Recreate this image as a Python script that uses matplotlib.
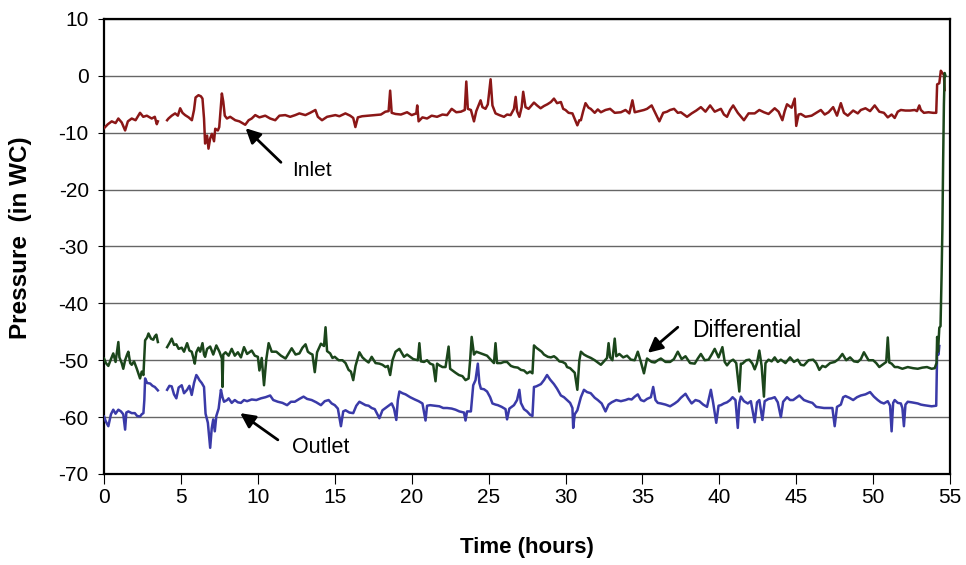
import matplotlib
matplotlib.use("Agg")
import matplotlib.pyplot as plt
import numpy as np

# values (hours, in WC); NaN marks the data gap
inlet_t = [0.0, 0.25, 0.5, 0.75, 0.93, 1.15, 1.37, 1.55, 1.8, 2.05, 2.34, 2.55, 2.78, 3.1, 3.3, 3.43, 3.5, 3.8,
           4.1, 4.19, 4.4, 4.62, 4.8, 4.95, 5.1, 5.27, 5.5, 5.71, 5.85, 5.95, 6.14, 6.3, 6.4, 6.5, 6.57, 6.7, 6.79,
           6.9, 7.01, 7.15, 7.23, 7.4, 7.49, 7.58, 7.66, 7.75, 7.85, 7.99, 8.2, 8.53, 8.8, 9.18, 9.4, 9.6, 9.83,
           10.1, 10.48, 10.8, 11.13, 11.4, 11.78, 12.1, 12.43, 12.7, 13.09, 13.4, 13.74, 13.9, 14.17, 14.5, 15.04,
           15.3, 15.69, 16.0, 16.2, 16.34, 16.5, 16.78, 17.2, 17.64, 18.0, 18.29, 18.5, 18.6, 18.7, 18.95, 19.3,
           19.7, 20.0, 20.3, 20.36, 20.45, 20.7, 21.0, 21.3, 21.65, 22.0, 22.3, 22.6, 22.9, 23.2, 23.45, 23.55,
           23.65, 23.85, 24.05, 24.2, 24.48, 24.6, 24.8, 24.95, 25.13, 25.25, 25.45, 25.7, 26.0, 26.2, 26.43,
           26.65, 26.76, 26.85, 27.0, 27.15, 27.25, 27.4, 27.6, 27.95, 28.15, 28.38, 28.6, 28.82, 29.05, 29.25,
           29.45, 29.7, 29.85, 30.0, 30.2, 30.45, 30.6, 30.77, 30.9, 31.0, 31.15, 31.3, 31.5, 31.64, 31.9, 32.1,
           32.3, 32.6, 32.9, 33.2, 33.6, 33.9, 34.15, 34.35, 34.5, 34.8, 35.1, 35.3, 35.6, 35.85, 36.1, 36.35,
           36.6, 36.8, 37.06, 37.3, 37.5, 37.9, 38.2, 38.5, 38.8, 39.1, 39.4, 39.7, 40.1, 40.3, 40.5, 40.7, 40.9,
           41.2, 41.6, 41.9, 42.3, 42.6, 42.9, 43.2, 43.6, 43.85, 44.1, 44.25, 44.4, 44.7, 44.9, 45.0, 45.15,
           45.3, 45.6, 46.0, 46.3, 46.6, 46.85, 47.1, 47.4, 47.65, 47.9, 48.1, 48.35, 48.7, 49.0, 49.2, 49.5,
           49.8, 50.1, 50.4, 50.7, 50.95, 51.2, 51.4, 51.6, 51.8, 52.1, 52.4, 52.7, 52.85, 53.0, 53.1, 53.3,
           53.6, 53.9, 54.1, 54.16, 54.3, 54.4, 54.5, 54.6, 54.65]
inlet_p = [-9.2, -8.5, -8.0, -8.3, -7.5, -8.2, -9.6, -8.0, -7.5, -7.8, -6.5, -7.2, -7.0, -7.5, -7.2, -8.5, -8.0, np.nan,
           -7.8, -7.5, -7.0, -6.6, -7.0, -5.7, -6.5, -6.9, -7.3, -7.8, -6.0, -3.8, -3.4, -3.6, -4.0, -7.5, -11.9, -10.5, -12.8,
           -11.0, -10.2, -11.5, -9.3, -9.6, -9.0, -6.0, -3.1, -4.5, -7.0, -7.5, -7.2, -7.8, -8.0, -8.6, -7.8, -7.5, -6.9,
           -7.3, -7.0, -7.5, -7.8, -7.0, -6.9, -7.2, -6.9, -6.6, -6.9, -6.5, -6.0, -7.2, -7.8, -7.2, -6.9,
           -7.1, -6.6, -7.0, -7.4, -9.0, -7.3, -7.1, -7.0, -6.9, -6.8, -6.3, -6.2, -2.6, -6.5, -6.7, -6.8,
           -6.4, -6.9, -6.6, -5.2, -8.0, -7.3, -7.5, -7.0, -7.2, -6.8, -6.9, -5.8, -6.4, -6.3, -6.0, -1.0,
           -5.8, -6.0, -8.0, -6.2, -4.3, -5.5, -5.8, -5.0, -0.6, -5.2, -6.6, -6.9, -7.2, -6.8, -6.9,
           -5.8, -3.7, -6.2, -7.2, -5.5, -2.8, -5.5, -5.8, -4.7, -5.2, -5.7, -5.3, -5.0, -4.6, -4.0,
           -4.8, -4.6, -5.8, -6.0, -6.5, -6.6, -7.6, -8.7, -7.8, -7.8, -6.2, -4.8, -5.6, -5.8, -6.5, -5.9,
           -6.4, -6.0, -5.8, -6.5, -6.4, -6.0, -6.6, -4.3, -6.4, -6.2, -6.0, -5.8, -5.2, -6.6, -8.0, -6.5,
           -6.3, -6.0, -5.8, -6.5, -6.4, -7.2, -6.6, -6.1, -5.5, -6.3, -5.2, -6.3, -5.8, -6.8, -7.2, -6.0, -5.2,
           -6.5, -7.8, -6.6, -6.6, -6.0, -6.4, -6.7, -5.7, -6.3, -7.8, -6.2, -5.0, -5.6, -4.0, -8.8, -6.8,
           -6.7, -7.2, -7.0, -6.5, -6.0, -6.8, -6.4, -5.5, -7.0, -4.8, -6.5, -7.0, -6.1, -6.6, -6.0, -5.7,
           -6.2, -5.2, -6.3, -6.5, -7.3, -6.8, -7.4, -6.3, -6.0, -6.1, -6.1, -6.0, -6.2, -5.2, -6.0, -6.5,
           -6.4, -6.5, -6.5, -1.5, -1.3, 0.9, 0.5, 0.2, -2.5]

diff_t = [0.0, 0.12, 0.28, 0.45, 0.6, 0.75, 0.93, 1.0, 1.15, 1.25, 1.37, 1.5, 1.58, 1.7, 1.8, 1.95, 2.13, 2.25, 2.34,
          2.45, 2.56, 2.67, 2.8, 2.89, 3.05, 3.2, 3.3, 3.4, 3.5, 3.8,
          4.1, 4.25, 4.4, 4.55, 4.7, 4.85, 5.05, 5.2, 5.4, 5.55, 5.7, 5.8, 5.9, 6.0, 6.14, 6.25, 6.4, 6.5, 6.57,
          6.7, 6.9, 7.1, 7.3, 7.5, 7.66, 7.7, 7.75, 7.9, 8.1, 8.3, 8.5, 8.7, 8.9, 9.1, 9.3, 9.6, 9.8, 10.0, 10.1,
          10.25, 10.4, 10.55, 10.7, 10.9, 11.2, 11.5, 11.8, 12.0, 12.2, 12.45, 12.7, 12.9, 13.1, 13.25, 13.4,
          13.55, 13.7, 13.85, 14.1, 14.3, 14.4, 14.5, 14.7, 14.85, 15.0, 15.25, 15.5, 15.7, 15.9, 16.05, 16.2,
          16.35, 16.6, 16.8, 17.0, 17.2, 17.4, 17.65, 17.9, 18.1, 18.3, 18.45, 18.6, 18.75, 18.95, 19.2, 19.5,
          19.7, 19.9, 20.1, 20.4, 20.5, 20.6, 20.8, 21.0, 21.2, 21.4, 21.55, 21.65, 21.8, 22.0, 22.2, 22.4,
          22.5, 22.6, 22.85, 23.07, 23.3, 23.5, 23.7, 23.8, 23.9, 24.05, 24.2, 24.5, 24.7, 24.9, 25.1, 25.35,
          25.45, 25.55, 25.8, 26.0, 26.2, 26.45, 26.65, 26.9, 27.1, 27.3, 27.5, 27.7, 27.85, 27.95, 28.1, 28.3,
          28.45, 28.6, 28.85, 29.05, 29.25, 29.4, 29.6, 29.8, 30.0, 30.1, 30.3, 30.45, 30.6, 30.77, 30.9, 31.0,
          31.2, 31.4, 31.65, 31.9, 32.1, 32.3, 32.5, 32.7, 32.8, 32.9, 33.05, 33.2, 33.3, 33.5, 33.75, 34.0,
          34.25, 34.5, 34.7, 34.9, 35.1, 35.3, 35.6, 35.8, 36.0, 36.2, 36.5, 36.8, 37.05, 37.3, 37.55, 37.8,
          38.1, 38.4, 38.6, 38.8, 39.05, 39.3, 39.5, 39.7, 39.95, 40.2, 40.35, 40.5, 40.7, 40.9, 41.1, 41.3,
          41.4, 41.5, 41.75, 41.95, 42.15, 42.3, 42.45, 42.6, 42.75, 42.9, 43.0, 43.2, 43.4, 43.6, 43.8, 44.0,
          44.3, 44.6, 44.85, 45.1, 45.3, 45.5, 45.8, 46.1, 46.3, 46.5, 46.7, 46.9, 47.2, 47.5, 47.75, 48.0,
          48.25, 48.5, 48.75, 49.0, 49.2, 49.4, 49.7, 50.0, 50.2, 50.4, 50.7, 50.85, 50.95, 51.05, 51.2, 51.4,
          51.6, 51.9, 52.25, 52.6, 52.9, 53.2, 53.5, 53.8, 54.0, 54.12, 54.16, 54.22, 54.3, 54.38, 54.45, 54.5,
          54.55, 54.6, 54.65, 54.7]
diff_p = [-49.7, -50.5, -51.0, -49.8, -48.8, -50.3, -46.8, -49.5, -50.5, -51.5, -50.0, -49.0, -48.5, -50.5, -50.8, -50.2, -51.5, -52.5, -53.2,
          -52.0, -52.6, -46.5, -46.0, -45.3, -46.2, -46.4, -45.8, -45.5, -46.8, np.nan,
          -47.7, -47.0, -46.2, -47.3, -47.2, -48.0, -47.8, -48.5, -47.0, -48.3, -48.5, -49.5, -50.6, -48.6, -47.8, -48.5, -47.0, -49.0, -49.4,
          -48.0, -47.6, -49.0, -47.4, -48.5, -49.7, -54.7, -49.0, -48.6, -49.2, -48.0, -49.2, -48.6, -49.5, -47.7, -48.9, -48.3, -49.2, -49.4, -51.8,
          -49.6, -54.4, -49.8, -47.0, -48.5, -48.5, -49.2, -49.7, -48.8, -47.9, -49.0, -48.8, -47.8, -47.2, -48.5, -48.8,
          -49.0, -52.1, -48.6, -47.1, -47.5, -44.2, -48.4, -48.8, -49.6, -49.4, -50.0, -50.0, -50.5, -51.7, -52.0, -53.5,
          -51.0, -48.6, -49.5, -50.0, -50.4, -49.4, -50.5, -50.6, -50.8, -51.2, -51.0, -52.6, -50.0, -48.5, -48.0, -49.4,
          -49.0, -49.4, -49.8, -50.0, -47.0, -50.2, -50.3, -50.0, -50.6, -50.8, -53.7, -50.6, -50.9, -51.2, -51.2, -47.6,
          -51.5, -51.7, -52.2, -52.6, -52.8, -53.5, -53.2, -50.0, -45.9, -49.0, -48.5, -48.8, -49.0, -49.2, -49.8, -50.5,
          -47.0, -50.5, -50.5, -50.3, -50.3, -51.0, -51.2, -51.3, -51.7, -51.8, -52.3, -52.0, -52.3, -47.4, -47.8, -48.2,
          -48.5, -49.0, -49.4, -49.5, -49.3, -49.6, -50.2, -50.3, -50.6, -51.2, -51.4, -51.8, -52.2, -55.2, -50.0, -48.5,
          -49.0, -49.3, -49.6, -50.0, -50.4, -50.8, -50.2, -49.6, -47.0, -49.5, -50.0, -46.2, -49.3, -48.9, -49.5, -49.2,
          -49.9, -50.0, -48.5, -50.3, -52.3, -49.7, -50.3, -50.4, -50.0, -49.7, -50.3, -50.3, -49.8, -48.5, -49.8, -49.3,
          -50.5, -50.6, -49.7, -48.9, -50.0, -49.9, -49.0, -48.0, -49.5, -47.7, -50.3, -50.9, -50.2, -49.9, -50.5, -55.5,
          -50.6, -50.6, -50.0, -49.9, -50.6, -51.6, -50.5, -48.3, -51.0, -56.4, -50.5, -49.9, -50.2, -49.5, -50.3, -49.9,
          -50.5, -49.5, -50.3, -49.9, -50.8, -50.9, -50.0, -49.9, -50.5, -51.7, -51.0, -51.2, -50.5, -50.3, -49.8, -48.9,
          -50.0, -49.5, -50.2, -50.3, -49.8, -48.6, -50.0, -50.0, -50.5, -51.2, -50.6, -50.3, -46.0, -50.4, -50.6, -51.2,
          -51.2, -51.5, -51.2, -51.4, -51.5, -51.3, -51.2, -51.5, -51.4, -50.5, -45.9, -48.5, -44.3, -44.0, -35.0, -27.0,
          -15.0, -5.0, 0.5, 0.0]

outlet_t = [0.0, 0.12, 0.28, 0.45, 0.6, 0.75, 0.93, 1.1, 1.25, 1.37, 1.45, 1.58, 1.8, 2.0, 2.15, 2.34, 2.45, 2.56, 2.62,
            2.67, 2.8, 3.0, 3.15, 3.3, 3.4, 3.5, 3.8,
            4.1, 4.25, 4.4, 4.55, 4.7, 4.85, 5.05, 5.2, 5.4, 5.55, 5.7, 5.85, 6.0, 6.1, 6.2, 6.35, 6.5, 6.6, 6.75,
            6.9, 7.0, 7.1, 7.2, 7.3, 7.45, 7.6, 7.7, 7.8, 8.0, 8.1, 8.3, 8.5, 8.7, 8.9, 9.1, 9.3, 9.6, 9.9, 10.2,
            10.5, 10.8, 11.0, 11.3, 11.6, 11.9, 12.15, 12.4, 12.7, 12.97, 13.2, 13.5, 13.8, 14.1, 14.35, 14.6, 14.8,
            15.0, 15.2, 15.4, 15.55, 15.7, 15.95, 16.2, 16.4, 16.6, 16.8, 17.0, 17.2, 17.4, 17.6, 17.9, 18.1, 18.3,
            18.5, 18.7, 18.85, 19.0, 19.1, 19.2, 19.4, 19.6, 19.9, 20.2, 20.45, 20.7, 20.9, 21.0, 21.2, 21.5, 21.8,
            22.05, 22.3, 22.6, 22.85, 23.1, 23.4, 23.5, 23.6, 23.85, 24.0, 24.15, 24.3, 24.4, 24.5, 24.7, 24.9,
            25.1, 25.25, 25.45, 25.6, 25.85, 26.1, 26.2, 26.35, 26.65, 26.85, 27.0, 27.1, 27.3, 27.5, 27.7, 27.85,
            27.95, 28.1, 28.4, 28.6, 28.8, 29.0, 29.25, 29.45, 29.7, 29.9, 30.1, 30.3, 30.45, 30.5, 30.6, 30.77,
            31.0, 31.2, 31.4, 31.64, 31.9, 32.1, 32.35, 32.6, 32.8, 33.0, 33.3, 33.6, 33.9, 34.1, 34.3, 34.5, 34.7,
            34.9, 35.1, 35.3, 35.55, 35.7, 35.85, 36.0, 36.2, 36.5, 36.8, 37.1, 37.3, 37.5, 37.8, 38.0, 38.2, 38.45,
            38.7, 38.95, 39.2, 39.3, 39.45, 39.6, 39.8, 39.95, 40.1, 40.3, 40.5, 40.7, 40.86, 41.05, 41.2, 41.3,
            41.4, 41.6, 41.85, 42.05, 42.3, 42.45, 42.6, 42.8, 42.95, 43.2, 43.4, 43.6, 43.8, 44.0, 44.15, 44.4,
            44.6, 44.8, 45.0, 45.2, 45.5, 45.8, 46.05, 46.3, 46.55, 46.8, 47.1, 47.35, 47.5, 47.65, 47.9, 48.05,
            48.2, 48.45, 48.7, 48.95, 49.2, 49.5, 49.8, 50.05, 50.3, 50.5, 50.7, 50.95, 51.1, 51.2, 51.3, 51.4,
            51.6, 51.8, 51.9, 52.0, 52.1, 52.25, 52.5, 52.7, 52.9, 53.1, 53.3, 53.55, 53.8, 54.1, 54.16, 54.25, 54.3]
outlet_p = [-59.9, -60.8, -61.6, -59.5, -58.7, -59.4, -58.7, -59.0, -59.5, -62.2, -59.2, -59.0, -59.3, -59.3, -59.8, -59.9, -59.5, -59.3, -57.0,
            -53.2, -54.0, -54.1, -54.5, -54.7, -55.0, -55.3, np.nan,
            -55.2, -54.5, -54.6, -56.0, -56.7, -54.8, -54.4, -55.8, -55.2, -54.5, -56.1, -54.0, -52.6, -53.0, -53.5, -54.0, -54.7, -59.4, -61.0,
            -65.4, -62.0, -60.4, -62.5, -59.8, -58.5, -55.2, -56.5, -57.3, -57.0, -56.7, -57.5, -57.0, -57.4, -57.5, -57.0, -57.2, -56.9, -57.0, -56.7,
            -56.5, -56.2, -57.0, -57.3, -57.5, -57.9, -57.3, -57.3, -56.8, -56.4, -56.8, -57.0, -57.4, -57.9, -57.2, -57.0, -57.6,
            -57.9, -58.5, -61.6, -59.0, -58.8, -59.2, -59.3, -58.0, -57.3, -57.6, -57.9, -58.0, -58.4, -58.6, -60.2, -58.8, -58.4,
            -58.0, -57.6, -58.5, -60.5, -57.0, -55.5, -55.8, -56.0, -56.5, -56.9, -57.2, -57.6, -60.6, -58.0, -57.9, -58.0, -58.1,
            -58.4, -58.4, -58.5, -58.7, -59.0, -59.2, -60.6, -59.0, -59.0, -54.4, -53.5, -50.6, -54.0, -55.0, -55.1, -55.5,
            -56.5, -57.6, -57.8, -57.9, -58.2, -58.6, -60.4, -58.5, -57.9, -57.0, -55.2, -57.5, -58.6, -59.0, -59.6, -59.8,
            -54.7, -54.6, -54.2, -53.5, -52.6, -53.4, -54.2, -55.0, -56.2, -56.5, -57.0, -57.5, -58.4, -61.9, -59.5, -58.8,
            -56.5, -55.2, -55.6, -55.8, -56.6, -57.0, -57.6, -59.0, -57.8, -57.4, -57.0, -57.2, -57.0, -56.8, -56.9, -56.4, -56.0,
            -57.0, -57.2, -56.8, -56.5, -54.7, -57.0, -57.5, -57.6, -57.8, -58.1, -57.6, -57.2, -56.6, -55.9, -56.8, -57.6, -57.0,
            -57.2, -57.8, -58.2, -57.0, -55.2, -57.5, -61.0, -58.0, -57.9, -57.6, -57.4, -57.0, -56.5, -57.0, -61.9, -57.5,
            -56.4, -57.2, -57.6, -57.2, -60.9, -57.4, -57.0, -60.5, -57.2, -56.8, -56.7, -56.5, -57.4, -60.0, -57.3, -56.5,
            -57.0, -57.0, -56.6, -56.2, -57.0, -57.3, -57.5, -58.2, -58.3, -58.4, -58.4, -58.4, -61.6, -58.2, -57.8, -56.5,
            -56.3, -56.6, -57.0, -56.5, -56.2, -56.0, -55.6, -56.4, -57.0, -57.4, -57.6, -57.2, -58.0, -62.5, -57.5, -57.0,
            -57.5, -57.6, -58.4, -61.6, -57.8, -57.3, -57.4, -57.5, -57.6, -57.8, -57.9, -58.0, -58.1, -58.0, -48.5, -49.0, -47.5]

x_ticks = [0, 5, 10, 15, 20, 25, 30, 35, 40, 45, 50, 55]
y_ticks = [10, 0, -10, -20, -30, -40, -50, -60, -70]

plt.rcParams['font.family'] = ['Liberation Sans', 'DejaVu Sans']
plt.rcParams['axes.unicode_minus'] = False

fig = plt.figure(figsize=(9.66, 5.65), dpi=100)
ax = fig.add_axes([0.1077, 0.1611, 0.8758, 0.8053])

ax.plot(inlet_t, inlet_p, color='#8B1717', lw=1.8, zorder=3)
ax.plot(outlet_t, outlet_p, color='#3A3AA8', lw=1.8, zorder=3)
ax.plot(diff_t, diff_p, color='#1B461B', lw=1.8, zorder=4)

ax.set_xlim(0, 55)
ax.set_ylim(-70, 10)
ax.set_xticks(x_ticks)
ax.set_yticks(y_ticks)
ax.yaxis.grid(True, color='#666666', lw=1.0)
ax.set_axisbelow(True)
for s in ax.spines.values():
    s.set_linewidth(1.6)
ax.tick_params(axis='y', direction='out', length=4, width=0.8, labelsize=15, pad=7)
ax.tick_params(axis='x', direction='out', length=7, width=0.8, labelsize=15, pad=3)

ax.set_xlabel('Time (hours)', fontsize=16, fontweight='bold', labelpad=22)
ax.set_ylabel('Pressure  (in WC)', fontsize=17.5, fontweight='bold')
ax.yaxis.set_label_coords(-0.085, 0.52)

arrow = dict(arrowstyle='-|>', color='black', lw=2, mutation_scale=22, shrinkA=0, shrinkB=0)
ax.annotate('', xy=(9.2, -9.2), xytext=(11.5, -15.2), arrowprops=arrow)
ax.text(12.2, -16.6, 'Inlet', fontsize=15, va='center', ha='left')
ax.annotate('', xy=(8.85, -59.3), xytext=(11.3, -64.0), arrowprops=arrow)
ax.text(12.2, -65.4, 'Outlet', fontsize=15.5, va='center', ha='left')
ax.annotate('', xy=(35.35, -48.7), xytext=(37.3, -44.2), arrowprops=arrow)
ax.text(38.2, -44.7, 'Differential', fontsize=16.5, va='center', ha='left')

fig.savefig('out.png', dpi=100)
